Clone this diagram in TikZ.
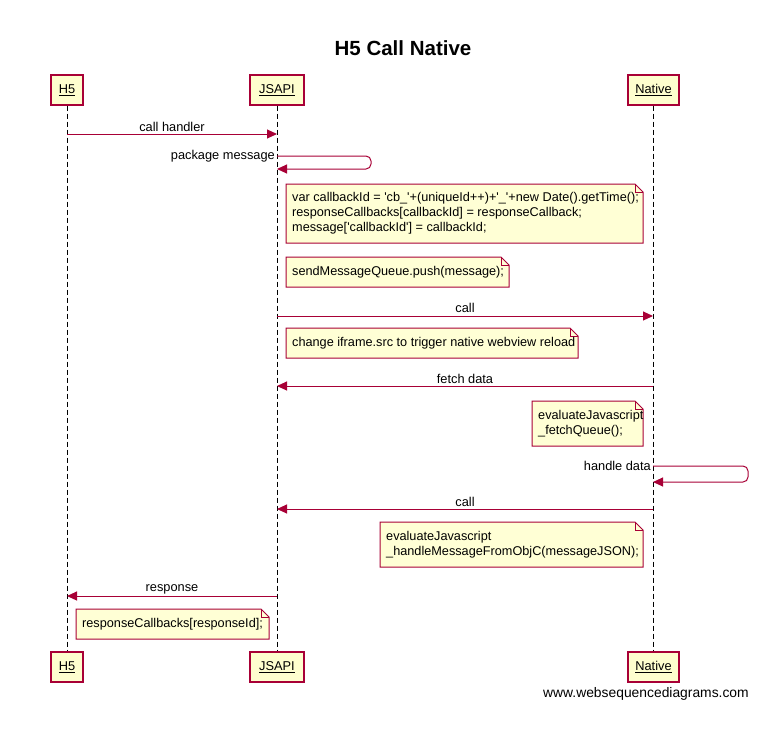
\documentclass[tikz,border=0pt]{standalone}
\usepackage{fontspec}
\setmainfont{Liberation Sans}
\usetikzlibrary{arrows.meta}
\definecolor{crim}{HTML}{A80036}
\definecolor{boxfill}{HTML}{FEFECE}
\definecolor{notefill}{HTML}{FFFFD5}
\tikzset{
 actor/.style={draw=crim, fill=boxfill, line width=1.2pt, minimum height=30pt, inner sep=0pt, font=\fontsize{12.8}{15}\selectfont},
 life/.style={draw=black, line width=1pt, dash pattern=on 5pt off 3pt},
 msg/.style={draw=crim, line width=1pt, -{Triangle[length=10pt,width=9pt]}},
 lbl/.style={font=\fontsize{12.8}{15}\selectfont, inner sep=0pt},
 notebg/.style={draw=crim, fill=notefill, line width=1pt},
 notetext/.style={font=\fontsize{12.7}{15}\selectfont, align=left, inner sep=0pt, anchor=west},
}
\newcommand{\seqnote}[6]{%
 \path[notebg] (#2,#3) -- ({#4-8},#3) -- (#4,{#3+8}) -- (#4,#5) -- (#2,#5) -- cycle;
 \draw[notebg, fill=none] ({#4-8},#3) -- ({#4-8},{#3+8}) -- (#4,{#3+8});
 \node[notetext] (#1) at ({#2+6},{(#3+#5)/2}) {#6};
}
\begin{document}
\begin{tikzpicture}[x=1pt,y=-1pt]
\useasboundingbox (0,0) rectangle (783,734);
\fill[white] (0,0) rectangle (783,734);
% title
\node[font=\bfseries\fontsize{20.5}{24}\selectfont, inner sep=0pt] (title) at (403,48) {H5 Call Native};
% participants
\node[actor, minimum width=32pt] (h5t) at (67,90) {\underline{H5}};
\node[actor, minimum width=54pt] (jst) at (277,90) {\underline{JSAPI}};
\node[actor, minimum width=51pt] (nat) at (653.5,90) {\underline{Native}};
\node[actor, minimum width=32pt] (h5b) at (67,667) {\underline{H5}};
\node[actor, minimum width=54pt] (jsb) at (277,667) {\underline{JSAPI}};
\node[actor, minimum width=51pt] (nab) at (653.5,667) {\underline{Native}};
% lifelines
\draw[life] (h5t) -- (h5b);
\draw[life] (jst) -- (jsb);
\draw[life] (nat) -- (nab);
% call handler
\coordinate (m1a) at (67,134); \coordinate (m1b) at (277,134);
\draw[msg] (m1a) -- node[lbl, anchor=base, yshift=3pt] {call handler} (m1b);
% package message
\coordinate (s1a) at (277,156); \coordinate (s1b) at (371,156);
\coordinate (s1c) at (371,169); \coordinate (s1d) at (277,169);
\draw[msg, rounded corners=5pt] (s1a) -- (s1b) -- (s1c) -- (s1d);
\node[lbl, anchor=base east] (s1l) at (275,159.5) {package message};
% notes
\seqnote{n1}{286}{184}{643}{243}{var callbackId = \textquotesingle cb\_\textquotesingle +(uniqueId++)+\textquotesingle\_\textquotesingle +new Date().getTime();\\responseCallbacks[callbackId] = responseCallback;\\message[\textquotesingle callbackId\textquotesingle ] = callbackId;}
\seqnote{n2}{286}{257}{509}{287}{sendMessageQueue.push(message);}
% call
\coordinate (m2a) at (277,316); \coordinate (m2b) at (653,316);
\draw[msg] (m2a) -- node[lbl, anchor=base, yshift=3.5pt] {call} (m2b);
\seqnote{n3}{286}{328}{578}{358}{change iframe.src to trigger native webview reload}
% fetch data
\coordinate (m3a) at (653,386); \coordinate (m3b) at (277,386);
\draw[msg] (m3a) -- node[lbl, anchor=base, yshift=3pt] {fetch data} (m3b);
\seqnote{n4}{532}{401}{643}{446}{evaluateJavascript\\\_fetchQueue();}
% handle data
\coordinate (s2a) at (653,466); \coordinate (s2b) at (748,466);
\coordinate (s2c) at (748,482); \coordinate (s2d) at (653,482);
\draw[msg, rounded corners=5pt] (s2a) -- (s2b) -- (s2c) -- (s2d);
\node[lbl, anchor=base east] (s2l) at (651,470) {handle data};
% call back
\coordinate (m4a) at (653,509); \coordinate (m4b) at (277,509);
\draw[msg] (m4a) -- node[lbl, anchor=base, yshift=3pt] {call} (m4b);
\seqnote{n5}{380}{522}{643}{567}{evaluateJavascript\\\_handleMessageFromObjC(messageJSON);}
% response
\coordinate (m5a) at (277,596); \coordinate (m5b) at (67,596);
\draw[msg] (m5a) -- node[lbl, anchor=base, yshift=4.5pt] {response} (m5b);
\seqnote{n6}{76}{609}{269}{639}{responseCallbacks[responseId];}
% footer
\node[font=\fontsize{13.85}{16}\selectfont, inner sep=0pt, anchor=base west] (footer) at (543,697) {www.websequencediagrams.com};
\end{tikzpicture}
\end{document}
